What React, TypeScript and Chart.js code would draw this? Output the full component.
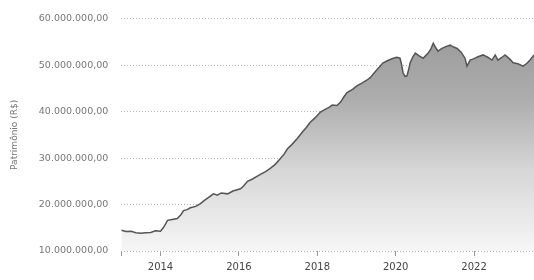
import React, { useEffect, useRef } from "react";
import { Chart, registerables } from "chart.js";

Chart.register(...registerables);

const dates: number[] = [
  2013.0, 2013.12, 2013.25, 2013.37, 2013.5, 2013.62, 2013.75, 2013.87, 2014.0, 2014.08,
  2014.18, 2014.3, 2014.43, 2014.52, 2014.59, 2014.68, 2014.76, 2014.9, 2015.02, 2015.12,
  2015.22, 2015.35, 2015.45, 2015.55, 2015.71, 2015.85, 2016.04, 2016.12, 2016.22, 2016.35,
  2016.45, 2016.55, 2016.68, 2016.8, 2016.92, 2017.06, 2017.15, 2017.24, 2017.35, 2017.49,
  2017.6, 2017.72, 2017.82, 2017.95, 2018.08, 2018.2, 2018.3, 2018.38, 2018.5, 2018.59,
  2018.68, 2018.76, 2018.9, 2019.02, 2019.15, 2019.25, 2019.35, 2019.45, 2019.55, 2019.68,
  2019.8, 2019.94, 2020.03, 2020.11, 2020.15, 2020.19, 2020.24, 2020.29, 2020.33, 2020.37,
  2020.44, 2020.5, 2020.6, 2020.7, 2020.76, 2020.83, 2020.9, 2020.96, 2021.02, 2021.08,
  2021.18, 2021.28, 2021.39, 2021.48, 2021.57, 2021.67, 2021.77, 2021.82, 2021.9, 2022.0,
  2022.1, 2022.23, 2022.35, 2022.46, 2022.54, 2022.61, 2022.7, 2022.79, 2022.9, 2023.0,
  2023.12, 2023.25, 2023.35, 2023.43, 2023.53,
];

// Patrimônio in millions of R$
const patrimonioMi: number[] = [
  14.45, 14.2, 14.25, 13.95, 13.8, 13.95, 14.0, 14.35, 14.25, 15.1,
  16.6, 16.8, 17.0, 17.8, 18.7, 18.9, 19.3, 19.6, 20.2, 20.9,
  21.5, 22.3, 22.0, 22.5, 22.3, 22.9, 23.4, 24.0, 25.0, 25.5,
  26.0, 26.5, 27.1, 27.8, 28.6, 29.9, 30.8, 32.0, 32.9, 34.2,
  35.4, 36.6, 37.7, 38.7, 39.9, 40.5, 40.9, 41.4, 41.3, 42.0,
  43.2, 44.1, 44.8, 45.6, 46.2, 46.7, 47.3, 48.3, 49.3, 50.5,
  51.0, 51.5, 51.7, 51.5, 50.2, 48.3, 47.6, 47.7, 49.0, 50.5,
  51.8, 52.6, 52.0, 51.5, 52.0, 52.6, 53.5, 54.7, 53.8, 53.0,
  53.6, 54.0, 54.3, 53.9, 53.6, 52.8, 51.5, 49.8, 51.1, 51.4,
  51.8, 52.2, 51.7, 51.1, 52.2, 51.1, 51.6, 52.2, 51.4, 50.5,
  50.3, 49.8, 50.4, 51.1, 52.2,
];

const xTickYears: number[] = [2013, 2014, 2016, 2018, 2020, 2022];
const yTickValues: number[] = [10000000, 20000000, 30000000, 40000000, 50000000, 60000000];
const yAxisTitle = "Patrimônio (R$)";

function formatBRL(v: number): string {
  const int = Math.round(v).toString().replace(/\B(?=(\d{3})+(?!\d))/g, ".");
  return int + ",00";
}

const FONT = "'DejaVu Sans', Verdana, sans-serif";

export default function App() {
  const ref = useRef<HTMLCanvasElement | null>(null);

  useEffect(() => {
    if (!ref.current) return;
    const points = dates.map((d, i) => ({ x: d, y: patrimonioMi[i] * 1000000 }));
    const chart = new Chart(ref.current, {
      type: "line",
      data: {
        datasets: [
          {
            data: points,
            borderColor: "#555555",
            borderWidth: 1.5,
            pointRadius: 0,
            tension: 0,
            fill: "start",
            backgroundColor: (ctx: any) => {
              const area = ctx.chart.chartArea;
              if (!area) return "#bbbbbb";
              const g = ctx.chart.ctx.createLinearGradient(0, area.top, 0, area.bottom);
              g.addColorStop(0, "#979797");
              g.addColorStop(0.35, "#adadad");
              g.addColorStop(0.65, "#d6d6d6");
              g.addColorStop(1, "#f6f6f6");
              return g;
            },
          },
        ],
      },
      options: {
        animation: false,
        responsive: true,
        maintainAspectRatio: false,
        layout: { padding: { left: 9, right: 0, top: 2, bottom: 2 } },
        plugins: { legend: { display: false }, tooltip: { enabled: false } },
        scales: {
          x: {
            type: "linear",
            min: 2013,
            max: 2023.53,
            afterBuildTicks: (axis: any) => {
              axis.ticks = xTickYears.map((v) => ({ value: v }));
            },
            ticks: {
              callback: (v: any) => (v === 2013 ? "" : String(v)),
              font: { family: FONT, size: 10 },
              color: "#444",
              padding: 5,
              maxRotation: 0,
              autoSkip: false,
            },
            grid: {
              drawOnChartArea: false,
              drawTicks: true,
              tickLength: 5,
              color: "#999",
            },
            border: { display: false },
          },
          y: {
            min: 10000000,
            max: 60000000,
            afterBuildTicks: (axis: any) => {
              axis.ticks = yTickValues.map((v) => ({ value: v }));
            },
            ticks: {
              callback: (v: any) => formatBRL(Number(v)),
              font: { family: FONT, size: 9.5 },
              color: "#777",
              padding: 13,
            },
            grid: {
              drawTicks: false,
              color: "#b5b5b5",
              lineWidth: 1,
            },
            border: { display: false, dash: [1, 2] },
            title: {
              display: true,
              text: yAxisTitle,
              font: { family: FONT, size: 9 },
              color: "#777",
              padding: { top: 0, bottom: 6 },
            },
          },
        },
      },
    });
    return () => chart.destroy();
  }, []);

  return (
    <div style={{ position: "fixed", left: 0, top: 0, width: 534, height: 280, background: "#fff" }}>
      <canvas ref={ref} />
    </div>
  );
}
